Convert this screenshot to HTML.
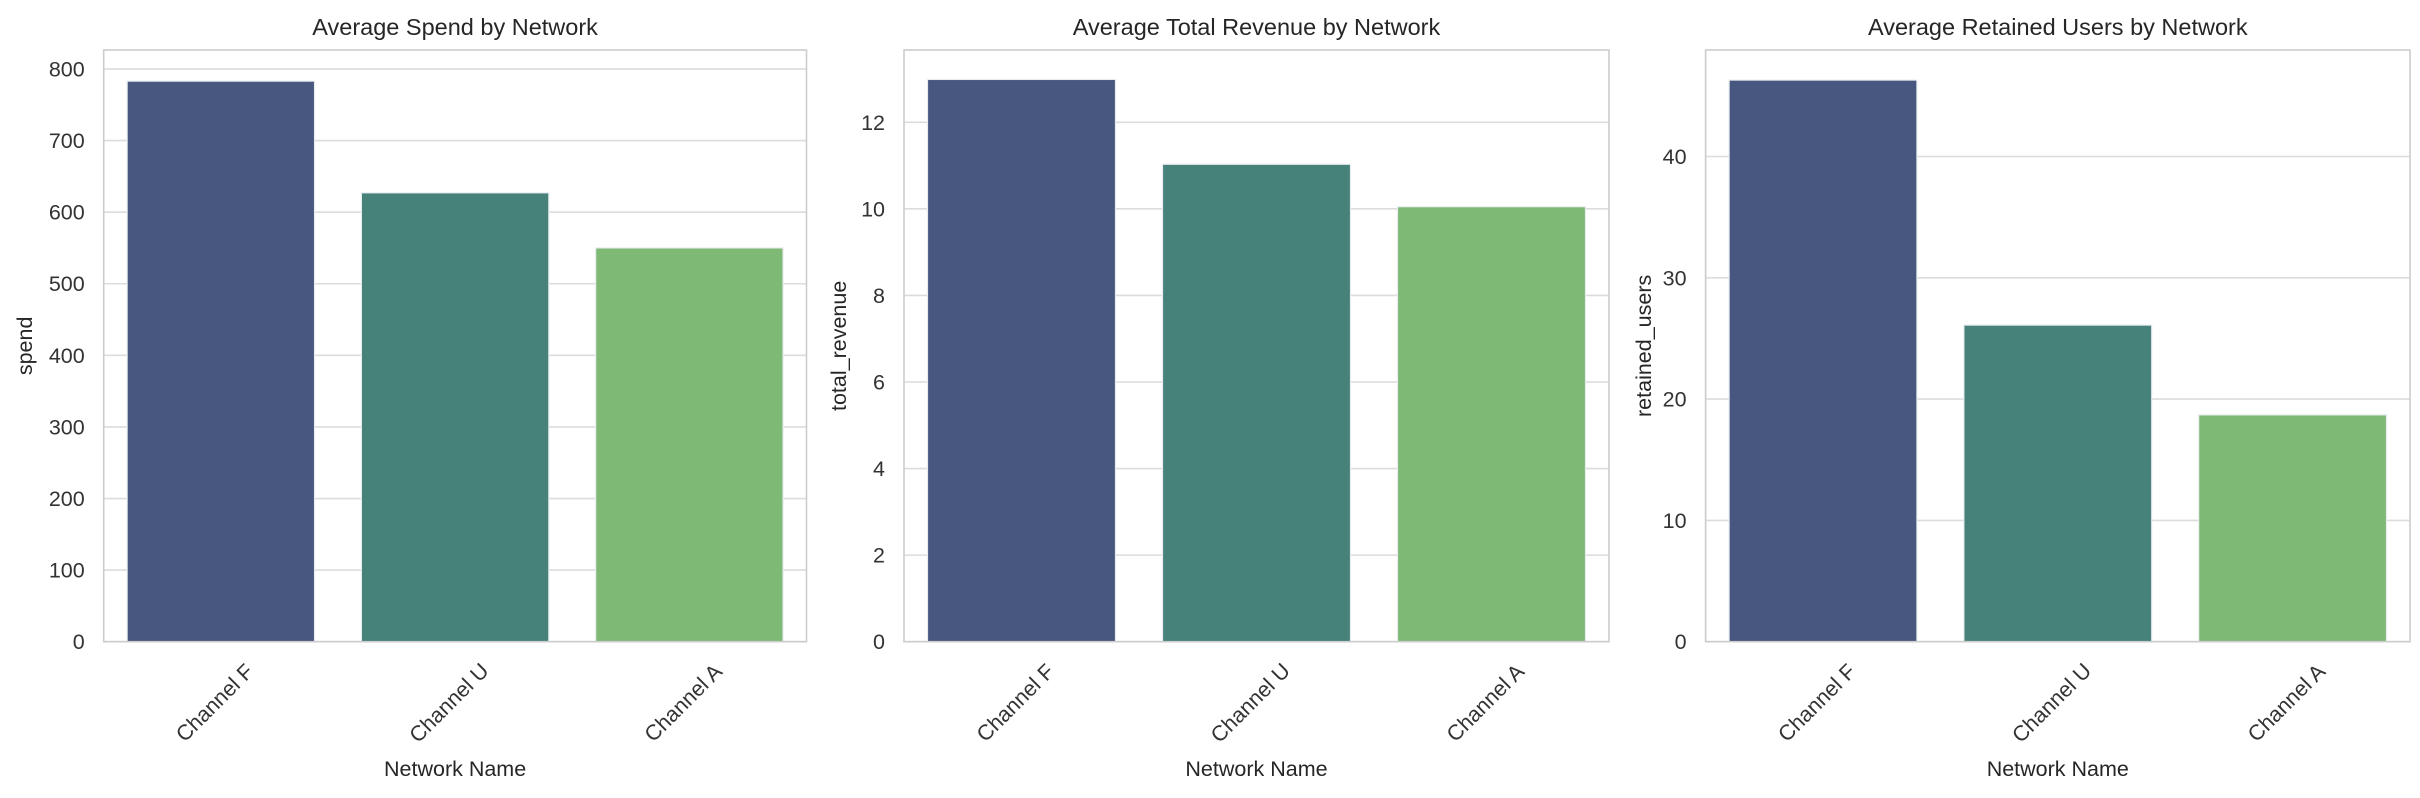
<!DOCTYPE html>
<html><head><meta charset="utf-8"><style>
html,body{margin:0;padding:0;background:#fff;}
svg{display:block;font-family:"Liberation Sans",Arial,sans-serif;}
</style></head><body>
<svg id="fig" width="2420" height="798" viewBox="0 0 2420 798" xmlns="http://www.w3.org/2000/svg"></svg>
<script>
const categories = ["Channel F", "Channel U", "Channel A"];
const spendValues = [783, 627, 550];
const revenueValues = [12.99, 11.03, 10.05];
const retainedValues = [46.3, 26.1, 18.7];
const spendTicks = [0, 100, 200, 300, 400, 500, 600, 700, 800];
const revenueTicks = [0, 2, 4, 6, 8, 10, 12];
const retainedTicks = [0, 10, 20, 30, 40];
const titles = ["Average Spend by Network", "Average Total Revenue by Network", "Average Retained Users by Network"];
const yLabels = ["spend", "total_revenue", "retained_users"];
const colors = ["#48577f", "#46817a", "#7eb975"];

(function () {
const NS = "http://www.w3.org/2000/svg";
const svg = document.getElementById("fig");
function mk(tag, attrs, parent) {
  const e = document.createElementNS(NS, tag);
  for (const k in attrs) e.setAttribute(k, attrs[k]);
  (parent || svg).appendChild(e);
  return e;
}
const panels = [
  {left:103.7, right:806.5, ymax:826.5, values:spendValues, ticks:spendTicks, ylx:25, key:"spend"},
  {left:904, right:1609, ymax:13.67, values:revenueValues, ticks:revenueTicks, ylx:839, key:"revenue"},
  {left:1705.6, right:2410, ymax:48.78, values:retainedValues, ticks:retainedTicks, ylx:1644, key:"retained"}
];
const plotTop = 50, plotBottom = 641.7;
panels.forEach((p, i) => {
  const g = mk("g", {});
  
  
  const y = v => plotBottom - (v / p.ymax) * (plotBottom - plotTop);
  const band = (p.right - p.left) / categories.length;
  const xc = j => p.left + band * (j + 0.5);
  p.ticks.forEach(t => {
    const gl = mk("line", {x1:p.left, x2:p.right, y1:y(t), y2:y(t), stroke:"#dcdcdc", "stroke-width":1.6}, g);
    
    
    const tl = mk("text", {x:p.left - 19, y:y(t) + 7.5, "text-anchor":"end", "font-size":21.5, fill:"#333"}, g);
    tl.textContent = t;
    
    
  });
  p.values.forEach((v, j) => {
    const w = band * 0.8;
    const r = mk("rect", {x:xc(j) - w / 2, y:y(v), width:w, height:plotBottom - y(v), fill:colors[j], stroke:"#e8ecf0", "stroke-width":1.2}, g);
    
    
    const tx = xc(j) - 6, ty = 703;
    const xl = mk("text", {x:tx, y:ty + 7, "text-anchor":"middle", "font-size":21.5, fill:"#333", transform:"rotate(-45 " + tx + " " + ty + ")"}, g);
    xl.textContent = categories[j];
    
    
  });
  const fr = mk("rect", {x:p.left, y:plotTop, width:p.right - p.left, height:plotBottom - plotTop, fill:"none", stroke:"#cccccc", "stroke-width":1.6}, g);
  
  
  const tt = mk("text", {x:(p.left + p.right) / 2, y:35, "text-anchor":"middle", "font-size":23.5, fill:"#262626"}, g);
  tt.textContent = titles[i];
  
  
  const xt = mk("text", {x:(p.left + p.right) / 2, y:776, "text-anchor":"middle", "font-size":21.5, fill:"#262626"}, g);
  xt.textContent = "Network Name";
  
  
  const cy = (plotTop + plotBottom) / 2;
  const yt = mk("text", {x:p.ylx, y:cy, "text-anchor":"middle", "dominant-baseline":"central", "font-size":21.5, fill:"#262626", transform:"rotate(-90 " + p.ylx + " " + cy + ")"}, g);
  yt.textContent = yLabels[i];
  
  
});
})();
</script>
</body></html>
